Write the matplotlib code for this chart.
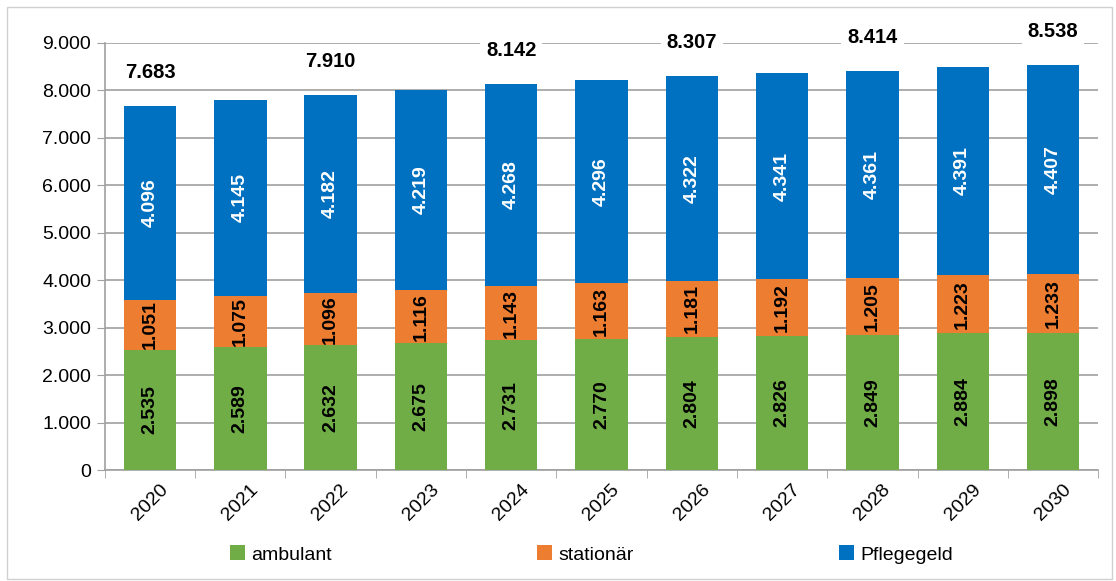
import matplotlib.pyplot as plt
import numpy as np

years = ["2020", "2021", "2022", "2023", "2024", "2025", "2026", "2027", "2028", "2029", "2030"]
ambulant = [2535, 2589, 2632, 2675, 2731, 2770, 2804, 2826, 2849, 2884, 2898]
stationaer = [1051, 1075, 1096, 1116, 1143, 1163, 1181, 1192, 1205, 1223, 1233]
pflegegeld = [4096, 4145, 4182, 4219, 4268, 4296, 4322, 4341, 4361, 4391, 4407]
totals = [7683, 7809, 7910, 8010, 8142, 8229, 8307, 8359, 8414, 8498, 8538]
total_shown = [True, False, True, False, True, False, True, False, True, False, True]


def de(v):
    return f"{v:,}".replace(",", ".")


plt.rcParams['font.family'] = ['Liberation Sans Narrow', 'Liberation Sans', 'DejaVu Sans']

fig = plt.figure(figsize=(11.16, 5.81), dpi=100)
ax = fig.add_axes([0.094, 0.191, 0.89, 0.735])

x = np.arange(len(years))
w = 0.58
green, orange, blue = "#70AD47", "#ED7D31", "#0070C0"
b1 = ax.bar(x, ambulant, w, color=green, label="ambulant", zorder=3)
b2 = ax.bar(x, stationaer, w, bottom=ambulant, color=orange, label="stationär", zorder=3)
bottom2 = np.array(ambulant) + np.array(stationaer)
b3 = ax.bar(x, pflegegeld, w, bottom=bottom2, color=blue, label="Pflegegeld", zorder=3)

for i in range(len(years)):
    ax.text(x[i], ambulant[i] / 2, de(ambulant[i]), rotation=90, ha="center", va="center",
            fontsize=14, fontweight="bold", color="black", zorder=4)
    ax.text(x[i], ambulant[i] + stationaer[i] / 2, de(stationaer[i]), rotation=90, ha="center",
            va="center", fontsize=14, fontweight="bold", color="black", zorder=4)
    ax.text(x[i], bottom2[i] + pflegegeld[i] / 2, de(pflegegeld[i]), rotation=90, ha="center",
            va="center", fontsize=14, fontweight="bold", color="white", zorder=4)
    if total_shown[i]:
        ax.annotate(de(totals[i]), (x[i], totals[i]), xytext=(0, 24), textcoords="offset points",
                    ha="center", va="center", fontsize=14.5, fontweight="bold", zorder=5,
                    bbox=dict(boxstyle="square,pad=0.3", fc="white", ec="none"))

ax.set_ylim(0, 9000)
ax.set_xlim(-0.5, len(years) - 0.5)
ax.set_yticks(np.arange(0, 9001, 1000))
ax.set_yticklabels([de(v) for v in range(0, 9001, 1000)], fontsize=14)
ax.set_xticks(x)
ax.set_xticklabels(years, rotation=45, fontsize=14, ha="center", va="top")
ax.tick_params(axis="x", length=0, pad=8)
ax.set_xticks(np.arange(-0.5, len(years), 1), minor=True)
ax.tick_params(axis="x", which="minor", length=6, color="#A0A0A0", direction="out")
ax.tick_params(axis="y", length=6, color="#A0A0A0", pad=4)
ax.grid(axis="y", color="#A0A0A0", linewidth=1.2, zorder=0)
for s in ["top", "right"]:
    ax.spines[s].set_visible(False)
ax.spines["left"].set_color("#A0A0A0")
ax.spines["bottom"].set_color("#A0A0A0")
ax.spines["left"].set_linewidth(1.2)
ax.spines["bottom"].set_linewidth(1.2)

fig.legend(handles=[b1, b2, b3], loc="lower left", bbox_to_anchor=(0.19, 0.0), ncol=3,
           frameon=False, fontsize=14, handlelength=0.8, handleheight=0.8, handletextpad=0.3,
           columnspacing=10.55)

fig.patches.append(plt.Rectangle((0.006, 0.003), 0.99, 0.985, transform=fig.transFigure,
                                 fill=False, edgecolor="#D0D0D0", linewidth=1))

fig.savefig("out.png", dpi=100)
